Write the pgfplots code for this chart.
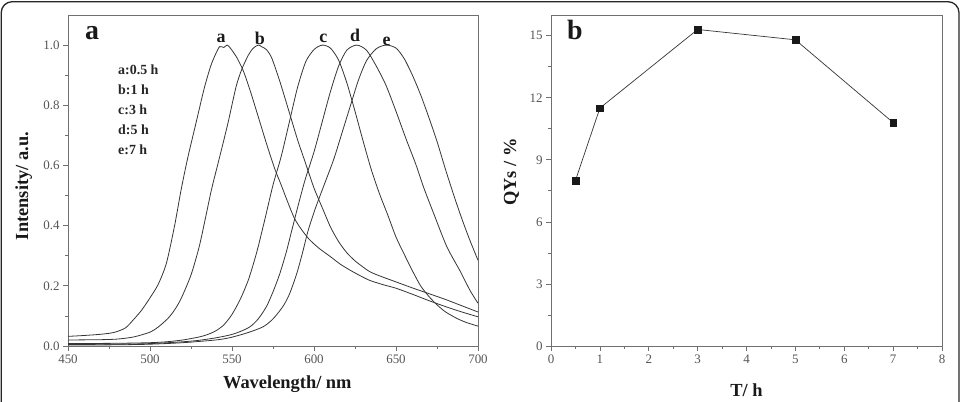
\documentclass[border=0pt]{standalone}
\usepackage{pgfplots}
\pgfplotsset{compat=1.18}
\usepackage{fontspec}
\setmainfont{Liberation Serif}

\definecolor{framegray}{HTML}{707070}
\definecolor{ticktext}{HTML}{555555}
\definecolor{curve}{HTML}{353535}

\pgfplotsset{
  panel/.style={
    scale only axis,
    axis line style={framegray, line width=0.8bp},
    every tick/.style={framegray, line width=0.7bp},
    tick align=outside,
    xtick pos=left, ytick pos=left,
    major tick length=5bp, minor tick length=3bp,
    minor x tick num=1, minor y tick num=1,
    tick label style={font=\fontsize{13}{14}\selectfont, text=ticktext},
    /pgf/number format/assume math mode=true,
    label style={font=\fontsize{18.5}{20}\selectfont\bfseries, text=black!90},
  },
  spec/.style={curve, line width=0.8bp, smooth, tension=0.45},
}

\begin{document}
\begin{tikzpicture}

% ---------------- (a) PL spectra ----------------
\begin{axis}[panel,
  at={(68bp,56bp)}, anchor=south west,
  width=410bp, height=331bp,
  xmin=450, xmax=700, ymin=0, ymax=1.1,
  xtick={450,500,550,600,650,700},
  ytick={0,0.2,0.4,0.6,0.8,1.0},
  yticklabel style={/pgf/number format/.cd, fixed, fixed zerofill, precision=1},
  xlabel={Wavelength/ nm},
  ylabel={Intensity/ a.u.},
  x label style={at={(axis description cs:0.535,-0.088)}, anchor=north, inner sep=0pt},
  y label style={at={(axis description cs:-0.108,0.483)}, anchor=center, inner sep=0pt},
]
% a: 0.5 h
\addplot[spec] coordinates {
(450,0.032) (460,0.035) (470,0.039) (478,0.045) (485,0.06) (490,0.088)
(495,0.12) (500,0.16) (505,0.205) (510,0.275) (515,0.40) (519,0.52)
(523,0.625) (528,0.74) (533,0.855) (537,0.93) (540,0.97) (542.5,0.995)
(545,0.992) (547,1.0) (549,0.99) (553,0.958) (557,0.913)
(561,0.85) (566,0.762) (571,0.673) (576,0.59) (580,0.535) (584,0.478)
(588,0.425) (592,0.39) (597,0.355) (603,0.325) (610,0.297) (616,0.272)
(622,0.252) (628,0.234) (634,0.218) (642,0.204) (650,0.192) (660,0.172)
(668,0.155) (676,0.139) (685,0.122) (692,0.11) (700,0.097)};
% b: 1 h
\addplot[spec] coordinates {
(450,0.02) (470,0.021) (480,0.023) (490,0.03) (500,0.046) (505,0.063)
(511,0.092) (515,0.12) (519,0.158) (525,0.236) (530,0.33) (534,0.43)
(537.5,0.52) (542.5,0.629) (547.5,0.74) (552.5,0.862) (556,0.92) (560,0.967)
(563,0.99) (566,1.0) (568,0.995) (571,0.985) (574,0.96) (577,0.915)
(580,0.865) (585,0.775) (590,0.685) (595,0.605) (600,0.525) (605,0.46)
(610,0.396) (615,0.347) (620,0.31) (625,0.283) (630,0.262) (634,0.247)
(640,0.233) (650,0.213) (660,0.193) (669,0.176) (680,0.155) (690,0.134)
(700,0.113)};
% c: 3 h
\addplot[spec] coordinates {
(450,0.008) (480,0.009) (500,0.011) (510,0.014) (520,0.02) (530,0.03)
(535,0.038) (540,0.05) (545,0.07) (550,0.105) (555,0.155) (560,0.22)
(565,0.31) (570,0.42) (575,0.535) (580,0.63) (585,0.745) (590,0.86)
(595,0.945) (600,0.985) (605,1.0) (610,0.99) (615,0.95) (620,0.875)
(625,0.78) (630,0.68) (635,0.585) (640,0.505) (645,0.435) (650,0.362)
(655,0.305) (660,0.25) (665,0.2) (670,0.165) (675,0.137) (680,0.114)
(687,0.092) (693,0.078) (700,0.066)};
% d: 5 h
\addplot[spec] coordinates {
(450,0.005) (480,0.006) (500,0.008) (520,0.014) (530,0.019) (540,0.027)
(549,0.037) (555,0.048) (561,0.064) (566,0.09) (571,0.131) (575,0.18)
(579,0.238) (583,0.31) (586.5,0.385) (590,0.46) (594.5,0.551) (600,0.645)
(605,0.745) (610,0.845) (615,0.93) (620,0.983) (626,1.0) (632,0.983)
(638,0.93) (644,0.865) (650,0.78) (656,0.69) (662,0.605) (667,0.525)
(673,0.44) (681,0.33) (689,0.25) (695,0.186) (700,0.142)};
% e: 7 h
\addplot[spec] coordinates {
(450,0.003) (480,0.004) (500,0.006) (520,0.011) (540,0.02) (549,0.028)
(560,0.045) (569,0.064) (575,0.09) (581,0.131) (585,0.172) (589.5,0.241)
(593,0.31) (596.5,0.385) (601,0.46) (606.5,0.54) (612,0.62) (617,0.707)
(622,0.795) (627,0.882) (632,0.948) (638,0.988) (644,1.0) (650,0.99)
(655,0.955) (660,0.9) (665,0.835) (670,0.76) (675,0.68) (680,0.59)
(685,0.505) (690,0.425) (695,0.352) (700,0.285)};

% peak letters
\begin{scope}[every node/.style={anchor=base, font=\fontsize{18}{18}\selectfont\bfseries, text=black!90}]
\node at (axis cs:543.3,1.010) {a};
\node at (axis cs:567.0,1.003) {b};
\node at (axis cs:605.7,1.007) {c};
\node at (axis cs:625.0,1.013) {d};
\node at (axis cs:644.3,1.000) {e};
\end{scope}
\end{axis}

% ---------------- (b) quantum yield ----------------
\begin{axis}[panel,
  at={(551bp,56bp)}, anchor=south west,
  width=391bp, height=331bp,
  xmin=0, xmax=8, ymin=0, ymax=16,
  xtick={0,1,2,3,4,5,6,7,8},
  ytick={0,3,6,9,12,15},
  xlabel={T/ h},
  ylabel={QYs / \%},
  x label style={at={(axis description cs:0.5,-0.112)}, anchor=north, inner sep=0pt},
  y label style={at={(axis description cs:-0.101,0.526)}, anchor=center, inner sep=0pt},
]
\addplot[curve, line width=0.7bp, mark=square*, mark size=3.3bp,
  mark options={fill=black!90, draw=black!90, line width=0.3bp}] coordinates {
(0.5,8.0) (1,11.5) (3,15.3) (5,14.8) (7,10.8)};
\end{axis}

% panel letters and time key
\node[anchor=base west, inner sep=0pt, font=\fontsize{28}{28}\selectfont\bfseries, text=black!90] at (85bp,362bp) {a};
\node[anchor=base west, inner sep=0pt, font=\fontsize{28}{28}\selectfont\bfseries, text=black!90] at (567bp,362bp) {b};
\begin{scope}[every node/.style={anchor=base west, inner sep=0pt, font=\fontsize{14}{14}\selectfont\bfseries, text=black!85}]
\node at (118bp,327.7bp) {a:0.5 h};
\node at (118bp,307.7bp) {b:1 h};
\node at (118bp,287.7bp) {c:3 h};
\node at (118bp,267.7bp) {d:5 h};
\node at (118bp,247.7bp) {e:7 h};
\end{scope}

% outer frame
\draw[line width=1.3bp, black!85, rounded corners=11bp]
  (1.2bp,-6bp) -- (1.2bp,400.3bp) -- (959bp,400.3bp) -- (959bp,-6bp);

\pgfresetboundingbox
\path[use as bounding box] (0,0) rectangle (963bp,402bp);
\end{tikzpicture}
\end{document}
